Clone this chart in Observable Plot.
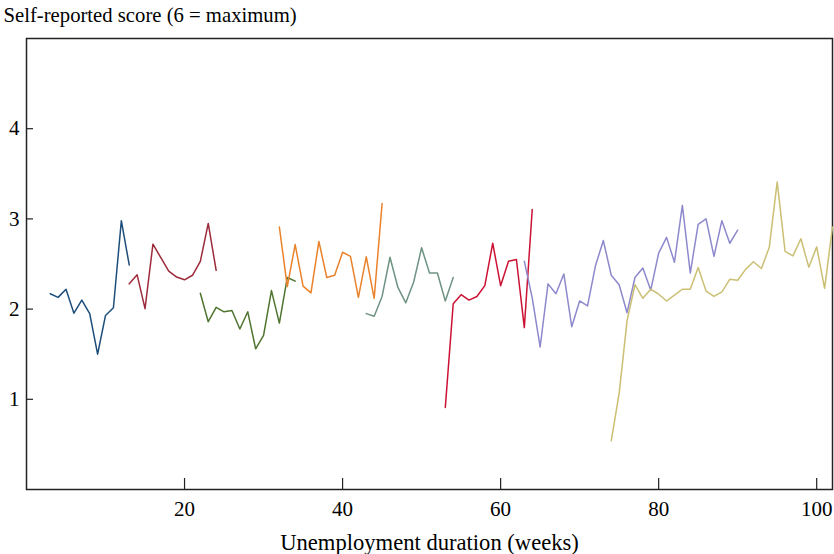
<!DOCTYPE html>
<html>
<head>
<meta charset="utf-8">
<script src="https://cdn.jsdelivr.net/npm/d3@7"></script>
<script src="https://cdn.jsdelivr.net/npm/@observablehq/plot@0.6"></script>
<style>
  body { margin: 0; background: #fff; }
  svg { display: block; }
  #chart svg, #chart svg text { font-family: "Liberation Serif", "DejaVu Serif", serif !important; }
</style>
</head>
<body>
<div id="chart"></div>
<script>
// Mean self-reported score by week of unemployment, one line per spell cohort.
// Each cohort is given as its first week and the weekly means that follow.
const spellNames  = ["A", "B", "C", "D", "E", "F", "G", "H"];
const spellStarts = [3, 13, 22, 32, 43, 53, 63, 74];
const spellColors = ["#1d4e7b", "#9c2b3b", "#4f7530", "#e9822a", "#6f9383", "#cc1233", "#8d89cc", "#cbbf74"];

const spellA = [2.17, 2.13, 2.22, 1.955, 2.10, 1.95, 1.50, 1.93, 2.015, 2.98, 2.49];
const spellB = [2.28, 2.38, 2.005, 2.72, 2.57, 2.42, 2.355, 2.325, 2.375, 2.53, 2.95, 2.43];
const spellC = [2.175, 1.86, 2.02, 1.97, 1.985, 1.78, 1.97, 1.56, 1.71, 2.205, 1.845, 2.35, 2.31];
const spellD = [2.91, 2.25, 2.715, 2.255, 2.18, 2.75, 2.35, 2.375, 2.63, 2.585, 2.13, 2.58, 2.12, 3.17];
const spellE = [1.95, 1.92, 2.14, 2.575, 2.24, 2.07, 2.30, 2.68, 2.40, 2.40, 2.09, 2.35];
const spellF = [0.91, 2.06, 2.16, 2.10, 2.14, 2.26, 2.73, 2.26, 2.53, 2.55, 1.795, 3.105];
const spellG = [2.53, 2.125, 1.58, 2.28, 2.17, 2.39, 1.805, 2.09, 2.035, 2.48, 2.76, 2.375, 2.27, 1.96,
                2.35, 2.455, 2.21, 2.62, 2.795, 2.52, 3.15, 2.40, 2.94, 3.00, 2.585, 2.98, 2.73, 2.875];
const spellH = [0.54, 1.065, 1.87, 2.27, 2.12, 2.22, 2.165, 2.09, 2.155, 2.22, 2.22, 2.46, 2.20, 2.14,
                2.19, 2.33, 2.32, 2.44, 2.525, 2.45, 2.685, 3.41, 2.64, 2.59, 2.78, 2.465, 2.69, 2.23, 2.91];

const spellValues = [spellA, spellB, spellC, spellD, spellE, spellF, spellG, spellH];

const xTicks = [20, 40, 60, 80, 100];
const yTicks = [1, 2, 3, 4];
const xTitle = "Unemployment duration (weeks)";
const yTitle = "Self-reported score (6 = maximum)";

// Long-format table for the line mark
const rows = spellValues.flatMap((vals, i) =>
  vals.map((score, j) => ({spell: spellNames[i], week: spellStarts[i] + j, score}))
);

const W = 834, H = 554;
const M = {left: 26, right: 2, top: 38, bottom: 65};
const innerW = W - M.left - M.right;
const innerH = H - M.top - M.bottom;
const ink = "#222";
const serif = "Liberation Serif";

const chart = Plot.plot({
  width: W,
  height: H,
  marginLeft: M.left,
  marginRight: M.right,
  marginTop: M.top,
  marginBottom: M.bottom,
  style: {fontFamily: serif, fontSize: "21px", color: "#000", background: "#fff"},
  x: {domain: [0, 102]},
  y: {domain: [0, 5]},
  color: {domain: spellNames, range: spellColors},
  marks: [
    Plot.frame({stroke: ink, strokeWidth: 1.5}),
    // inward ticks
    Plot.tickX(xTicks, {x: d => d, insetTop: innerH - 11, stroke: ink, strokeWidth: 1.2}),
    Plot.tickY(yTicks, {y: d => d, insetRight: innerW - 7, stroke: ink, strokeWidth: 1.2}),
    Plot.axisX({ticks: xTicks, tickSize: 0, tickPadding: 12, tickFormat: "d", label: null, fontSize: 21, fontFamily: serif}),
    Plot.axisY({ticks: yTicks, tickSize: 0, tickPadding: 7, tickFormat: "d", label: null, fontSize: 21, fontFamily: serif}),
    Plot.lineY(rows, {x: "week", y: "score", z: "spell", stroke: "spell", strokeWidth: 1.5}),
    Plot.text([xTitle], {frameAnchor: "bottom", dy: 53, lineAnchor: "middle", fontSize: 22.6, fontFamily: serif, fill: "#000"}),
    Plot.text([yTitle], {frameAnchor: "top-left", dx: -23, dy: -23.6, textAnchor: "start", lineAnchor: "middle", fontSize: 20.7, fontFamily: serif, fill: "#000"})
  ]
});

document.getElementById("chart").appendChild(chart);
</script>
</body>
</html>
